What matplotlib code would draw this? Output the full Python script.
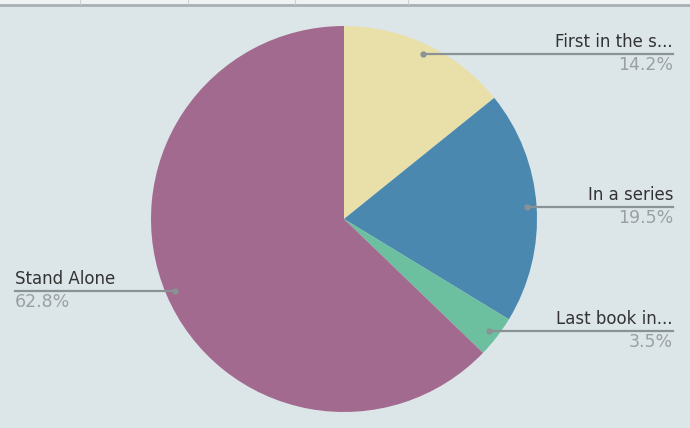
import numpy as np
import matplotlib.pyplot as plt

labels = ["First in the s...", "In a series", "Last book in...", "Stand Alone"]
values = [14.2, 19.5, 3.5, 62.8]
pct_labels = ["14.2%", "19.5%", "3.5%", "62.8%"]
colors = ["#e9dfa9", "#4a88b0", "#6cbf9f", "#a36a8f"]

W, H = 690, 428
fig = plt.figure(figsize=(W / 100, H / 100), dpi=100)
fig.patch.set_facecolor("#dce6e9")
ax = fig.add_axes([0, 0, 1, 1])

# strip at the top of the screenshot
ax.axhspan(H - 4, H, color="#eef2f3", lw=0)
ax.axhline(H - 4.5, color="#a9b1b5", lw=2)
for x in [80, 188, 295, 408]:
    ax.plot([x, x], [H - 4, H], color="#c9d0d3", lw=0.8)

cx, cy, R = 344, H - 219, 193
wedges, _ = ax.pie(values, colors=colors, startangle=90, counterclock=False,
                   center=(cx, cy), radius=R, frame=True,
                   wedgeprops=dict(linewidth=0))
ax.set_xlim(0, W)
ax.set_ylim(0, H)
ax.set_aspect("equal")
ax.axis("off")

for w, lab, pct in zip(wedges, labels, pct_labels):
    mid = np.deg2rad((w.theta1 + w.theta2) / 2)
    px = cx + 0.95 * R * np.cos(mid)
    py = cy + 0.95 * R * np.sin(mid)
    if np.cos(mid) >= 0:
        xe, ha = 673, "right"
    else:
        xe, ha = 15, "left"
    ax.plot([px, xe], [py, py], color="#8a9296", lw=1.6, zorder=3)
    ax.plot(px, py, "o", color="#8a9296", ms=3.5, zorder=4)
    ax.text(xe, py + 3, lab, ha=ha, va="bottom", fontsize=12, color="#333333")
    ax.text(xe, py - 2, pct, ha=ha, va="top", fontsize=12.5, color="#9a9fa3")

fig.savefig("out.png", dpi=100, facecolor=fig.get_facecolor())
